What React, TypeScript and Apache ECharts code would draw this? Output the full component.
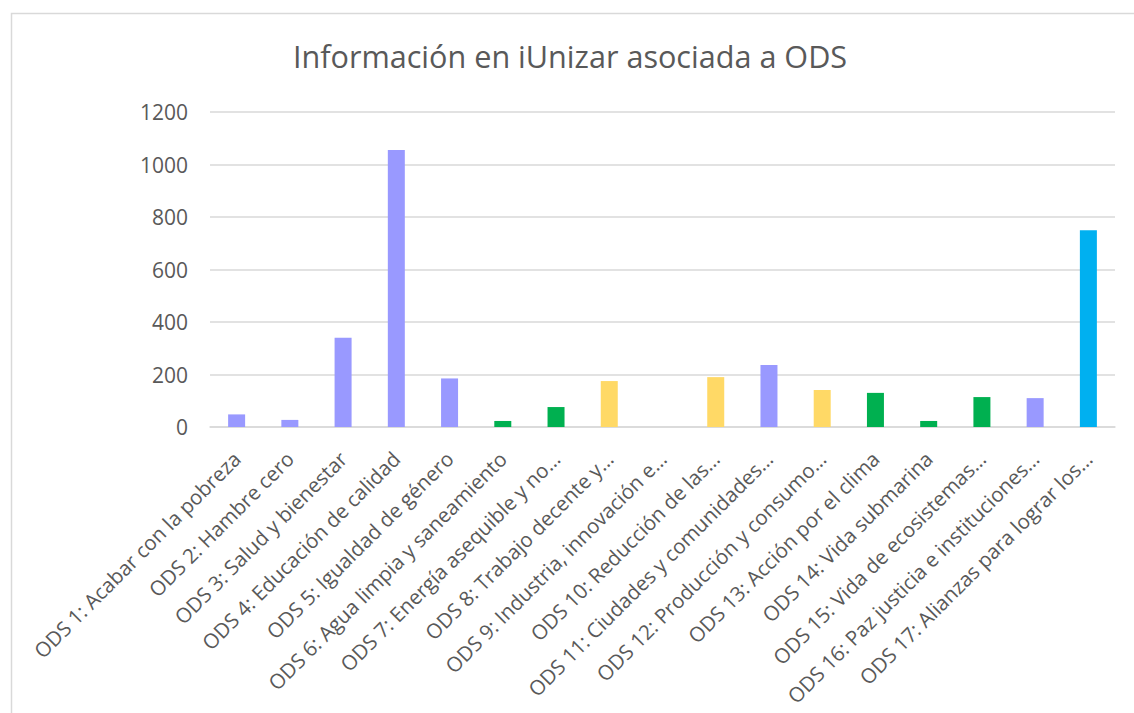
import React, { useEffect, useRef } from "react";
import * as echarts from "echarts";

const titleText = "Información en iUnizar asociada a ODS";

const categories = [
  "ODS 1: Acabar con la pobreza",
  "ODS 2: Hambre cero",
  "ODS 3: Salud y bienestar",
  "ODS 4: Educación de calidad",
  "ODS 5: Igualdad de género",
  "ODS 6: Agua limpia y saneamiento",
  "ODS 7: Energía asequible y no…",
  "ODS 8: Trabajo decente y…",
  "ODS 9: Industria, innovación e…",
  "ODS 10: Reducción de las…",
  "ODS 11: Ciudades y comunidades…",
  "ODS 12: Producción y consumo…",
  "ODS 13: Acción por el clima",
  "ODS 14: Vida submarina",
  "ODS 15: Vida de ecosistemas…",
  "ODS 16: Paz justicia e instituciones…",
  "ODS 17: Alianzas para lograr los…",
];

const values = [48, 27, 340, 1055, 185, 23, 76, 175, 0, 190, 236, 141, 130, 23, 114, 110, 750];

const barColors = [
  "#9999FF", "#9999FF", "#9999FF", "#9999FF", "#9999FF",
  "#00B050", "#00B050", "#FFD966", "#FFD966", "#FFD966",
  "#9999FF", "#FFD966", "#00B050", "#00B050", "#00B050",
  "#9999FF", "#00B0F0",
];

const yTicks = { min: 0, max: 1200, interval: 200 };

export default function App() {
  const ref = useRef<HTMLDivElement>(null);

  useEffect(() => {
    if (!ref.current) return;
    const chart = echarts.init(ref.current, null, { renderer: "svg" });
    const font = "'Open Sans', 'DejaVu Sans', sans-serif";
    chart.setOption({
      animation: false,
      backgroundColor: "#ffffff",
      textStyle: { fontFamily: font },
      title: {
        text: titleText,
        left: 565,
        top: 35,
        textAlign: "center",
        textStyle: { fontFamily: font, fontSize: 30.6, fontWeight: "normal", color: "#595959" },
      },
      graphic: [
        {
          type: "rect",
          shape: { x: 11.5, y: 13.5, width: 1130, height: 720 },
          style: { fill: "none", stroke: "#d9d9d9", lineWidth: 1.5 },
          silent: true,
        },
      ],
      grid: { left: 210, right: 19, top: 112, bottom: 286, containLabel: false },
      xAxis: {
        type: "category",
        data: categories,
        axisLine: { lineStyle: { color: "#d9d9d9", width: 1.5 } },
        axisTick: { show: false },
        axisLabel: {
          interval: 0,
          rotate: 45,
          margin: 28,
          color: "#595959",
          fontSize: 20.5,
          fontFamily: font,
        },
      },
      yAxis: {
        type: "value",
        min: yTicks.min,
        max: yTicks.max,
        interval: yTicks.interval,
        axisLine: { show: false },
        axisTick: { show: false },
        splitLine: { lineStyle: { color: "#d9d9d9", width: 1.5 } },
        axisLabel: {
          color: "#595959",
          fontSize: 21,
          margin: 22,
          fontFamily: font,
          formatter: (v: number) => String(v),
        },
      },
      series: [
        {
          type: "bar",
          data: values.map((v, i) => ({ value: v, itemStyle: { color: barColors[i] } })),
          barWidth: 17,
        },
      ],
    });
    return () => chart.dispose();
  }, []);

  return (
    <div
      ref={ref}
      style={{ position: "fixed", left: 0, top: 0, width: 1134, height: 713 }}
    />
  );
}
